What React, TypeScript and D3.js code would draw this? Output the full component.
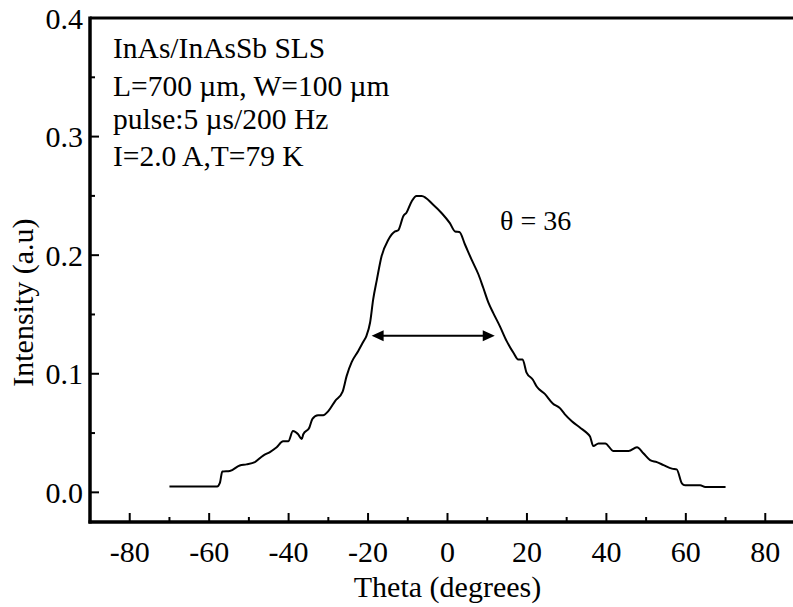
import React from "react";
import * as d3 from "d3";

const thetaDeg = [-70, -58, -57.3, -56.7, -54.8, -52.3, -50.6, -48.5, -46.4, -44.7, -43, -41.4, -40.1, -38.9, -37.6, -36.7, -36.3, -34.8, -34, -32.6, -31.3, -30, -28.3, -26.4, -25.4, -24.1, -22.5, -21.2, -20.4, -19.5, -18.7, -17.8, -16.6, -14.9, -13.2, -12.4, -11.1, -10.3, -9, -7.8, -6.5, -3.6, -1.5, 0.6, 1.9, 3, 4.4, 6.1, 7.8, 9, 10.3, 11.5, 13.2, 14.9, 16.6, 17.8, 18.9, 19.9, 21.5, 22.5, 24.5, 26.5, 28.3, 29.5, 31.3, 33.4, 35.1, 35.9, 36.7, 38, 39.7, 41.8, 45.6, 47.7, 49.3, 51, 52.7, 54.4, 56.5, 57.7, 59, 59.8, 63.6, 64.9, 70];
const intensity = [0.005, 0.005, 0.008, 0.0175, 0.018, 0.0227, 0.0236, 0.0255, 0.031, 0.034, 0.038, 0.043, 0.043, 0.0517, 0.049, 0.045, 0.049, 0.0545, 0.062, 0.065, 0.065, 0.0685, 0.077, 0.085, 0.098, 0.11, 0.119, 0.127, 0.132, 0.143, 0.163, 0.179, 0.199, 0.213, 0.22, 0.221, 0.233, 0.236, 0.2455, 0.25, 0.25, 0.2426, 0.2356, 0.227, 0.22, 0.2196, 0.209, 0.196, 0.1837, 0.1725, 0.16, 0.1514, 0.14, 0.1275, 0.1177, 0.112, 0.112, 0.101, 0.095, 0.089, 0.083, 0.075, 0.071, 0.066, 0.06, 0.0545, 0.05, 0.047, 0.039, 0.0413, 0.0413, 0.0348, 0.0348, 0.038, 0.033, 0.0272, 0.0255, 0.023, 0.02, 0.0194, 0.0076, 0.0059, 0.0059, 0.0045, 0.0045];

const xMajorTicks = [-80, -60, -40, -20, 0, 20, 40, 60, 80];
const xMinorTicks = [-70, -50, -30, -10, 10, 30, 50, 70];
const yMajorTicks = [0, 0.1, 0.2, 0.3, 0.4];
const yMinorTicks = [0.05, 0.15, 0.25, 0.35];

const fwhmLeft = -19.1;
const fwhmRight = 11.9;
const fwhmLevel = 0.132;

const infoLines = ["InAs/InAsSb SLS", "L=700 \u00b5m, W=100 \u00b5m", "pulse:5 \u00b5s/200 Hz", "I=2.0 A,T=79 K"];
const thetaLabel = "\u03b8 = 36";

export default function App() {
  const W = 793, H = 607;
  const x = d3.scaleLinear().domain([-90, 90]).range([90, 805]);
  const y = d3.scaleLinear().domain([-0.025, 0.4]).range([522, 18]);
  const font = "'Liberation Serif', 'Times New Roman', serif";

  const pts = thetaDeg.map((t, i) => [t, intensity[i]] as [number, number]);
  const line = d3.line<[number, number]>().x(d => x(d[0])).y(d => y(d[1])).curve(d3.curveMonotoneX);

  const ay = y(fwhmLevel);
  const ax1 = x(fwhmLeft), ax2 = x(fwhmRight);
  const ah = 12, aw = 5.5;

  return (
    <svg width={W} height={H} style={{ position: "absolute", left: 0, top: 0 }}>
      <rect width={W} height={H} fill="#fff" />
      {/* frame */}
      <line x1={x(-90)} x2={W + 5} y1={y(0.4)} y2={y(0.4)} stroke="#000" strokeWidth={3} />
      <line x1={x(-90)} x2={x(-90)} y1={y(0.4) - 1.5} y2={y(-0.025) + 1.5} stroke="#000" strokeWidth={3.5} />
      <line x1={x(-90) - 1.5} x2={W + 5} y1={y(-0.025)} y2={y(-0.025)} stroke="#000" strokeWidth={3.5} />
      {/* y ticks */}
      {yMajorTicks.map(v => (
        <g key={"ym" + v}>
          <line x1={x(-90)} x2={x(-90) + 9} y1={y(v)} y2={y(v)} stroke="#000" strokeWidth={2} />
          <text x={83} y={y(v)} dy="0.35em" textAnchor="end" fontFamily={font} fontSize={30}>{v.toFixed(1)}</text>
        </g>
      ))}
      {yMinorTicks.map(v => (
        <line key={"yn" + v} x1={x(-90)} x2={x(-90) + 5} y1={y(v)} y2={y(v)} stroke="#000" strokeWidth={2} />
      ))}
      {/* x ticks */}
      {xMajorTicks.map(v => (
        <g key={"xm" + v}>
          <line x1={x(v)} x2={x(v)} y1={y(-0.025)} y2={y(-0.025) - 9} stroke="#000" strokeWidth={2} />
          <text x={x(v)} y={562} textAnchor="middle" fontFamily={font} fontSize={30}>{v}</text>
        </g>
      ))}
      {xMinorTicks.map(v => (
        <line key={"xn" + v} x1={x(v)} x2={x(v)} y1={y(-0.025)} y2={y(-0.025) - 5} stroke="#000" strokeWidth={2} />
      ))}
      {/* axis titles */}
      <text x={x(0)} y={597} textAnchor="middle" fontFamily={font} fontSize={30}>Theta (degrees)</text>
      <text transform={`translate(33, ${y(0.16)}) rotate(-90)`} textAnchor="middle" fontFamily={font} fontSize={30}>Intensity (a.u)</text>
      {/* curve */}
      <path d={line(pts) || ""} fill="none" stroke="#000" strokeWidth={2} strokeLinejoin="round" />
      {/* FWHM arrow */}
      <line x1={ax1 + ah - 1} x2={ax2 - ah + 1} y1={ay} y2={ay} stroke="#000" strokeWidth={2} />
      <path d={`M${ax1},${ay} L${ax1 + ah},${ay - aw} L${ax1 + ah},${ay + aw} Z`} fill="#000" />
      <path d={`M${ax2},${ay} L${ax2 - ah},${ay - aw} L${ax2 - ah},${ay + aw} Z`} fill="#000" />
      <text x={500} y={230} fontFamily={font} fontSize={28}>{thetaLabel}</text>
      {/* info block */}
      {infoLines.map((s, i) => (
        <text key={s} x={113} y={[58, 96, 129, 166][i]} fontFamily={font} fontSize={29.5}>{s}</text>
      ))}
    </svg>
  );
}
